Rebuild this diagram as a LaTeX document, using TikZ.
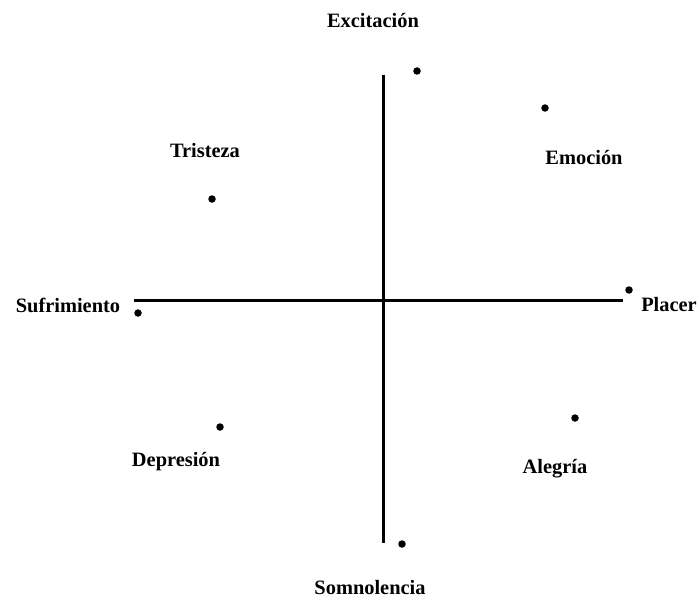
\documentclass[tikz,border=0pt]{standalone}
\usepackage{fontspec}
\setmainfont{Liberation Serif}
\begin{document}
\begin{tikzpicture}[x=1pt,y=-1pt,
  lbl/.style={font=\fontsize{20.4}{24}\selectfont\bfseries, inner sep=0pt},
  axis/.style={line width=3pt},
  pt/.style={circle, fill=black, inner sep=0pt, minimum size=7.5pt}]
\useasboundingbox (0,0) rectangle (700,599);
\coordinate (vt) at (383,75);
\coordinate (vb) at (383,543);
\coordinate (hl) at (134,300);
\coordinate (hr) at (623,300);
\draw[axis] (vt) -- (vb);
\draw[axis] (hl) -- (hr);
\node[pt] (d1) at (417,71) {};
\node[pt] (d2) at (545,108) {};
\node[pt] (d3) at (212,199) {};
\node[pt] (d4) at (629,290) {};
\node[pt] (d5) at (138,313) {};
\node[pt] (d6) at (220,427) {};
\node[pt] (d7) at (575,418) {};
\node[pt] (d8) at (402,544) {};
\node[lbl] (exc) at (373,21) {Excitación};
\node[lbl] (tri) at (205,151) {Tristeza};
\node[lbl] (emo) at (584,158) {Emoción};
\node[lbl] (suf) at (68,305) {Sufrimiento};
\node[lbl] (pla) at (669,305) {Placer};
\node[lbl] (dep) at (176,462) {Depresión};
\node[lbl] (ale) at (555,469) {Alegría};
\node[lbl] (som) at (370,588) {Somnolencia};
\end{tikzpicture}
\end{document}
